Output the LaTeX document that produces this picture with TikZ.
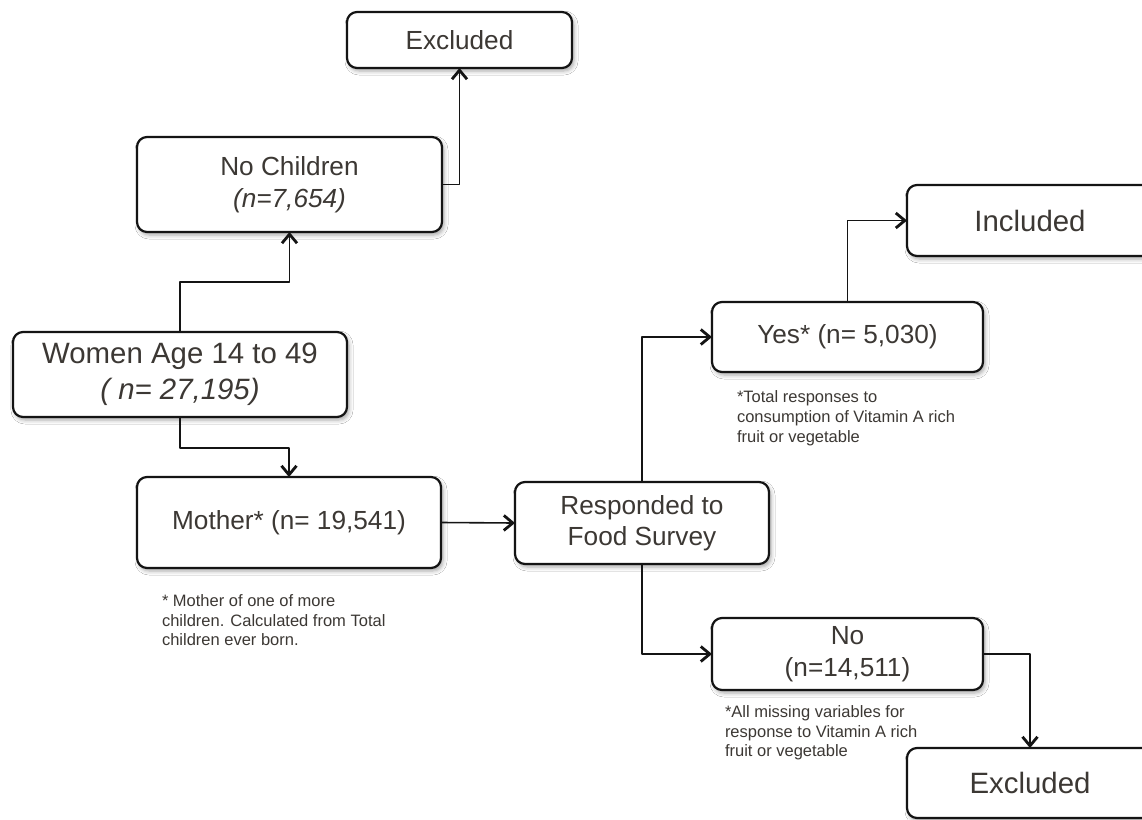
\documentclass[tikz,border=0pt]{standalone}
\usepackage{fontspec}
\setmainfont{Liberation Sans}
\usetikzlibrary{arrows.meta,shadows.blur}
\definecolor{FlowInk}{gray}{0.08}
\definecolor{FlowText}{RGB}{60,56,52}
\tikzset{
    flow/diagram/.style={
        x=0.5pt, y=-0.5pt,
        line join=round,
        every node/.style={inner sep=0pt, outer sep=0pt}
    },
    flow/box/.style={
        draw=FlowInk, fill=white, text=FlowText, line width=1.1pt,
        rounded corners=5pt, align=center,
        blur shadow={shadow xshift=1pt, shadow yshift=-1.5pt,
            shadow blur radius=2pt, shadow opacity=35}
    },
    flow/link/.style={
        draw=FlowInk, line width=0.8pt,
        -{Straight Barb[length=4.5pt, width=7.5pt, line width=1.4pt]}
    },
    flow/note/.style={
        anchor=north west, align=left, text=FlowText,
        font=\fontsize{8.25}{9.6}\selectfont
    },
    flow/big/.style={font=\fontsize{14.7}{18}\selectfont},
    flow/mid/.style={font=\fontsize{13.1}{16}\selectfont}
}

\begin{document}
\begin{tikzpicture}[flow/diagram]
    \fill[white] (0,0) rectangle (1142,820);
    \clip (0,0) rectangle (1142,820);
    % left column
    \node[flow/box, flow/mid, minimum width=112.5pt, minimum height=28pt]
        (exclTop) at (459.5,40) {Excluded};
    \node[flow/box, flow/mid, minimum width=152.5pt, minimum height=47.5pt]
        (noChild) at (289.5,184.5) {No Children\\\textit{(n=7,654)}};
    \node[flow/box, flow/big, minimum width=167pt, minimum height=42.5pt]
        (women) at (180,374.5) {Women Age 14 to 49\\\textit{( n= 27,195)}};
    \node[flow/box, flow/mid, minimum width=152pt, minimum height=45.5pt]
        (mother) at (289,522.5) {Mother* (n= 19,541)};
    % survey branch
    \node[flow/box, flow/mid, font=\fontsize{13.1}{15.5}\selectfont,
        minimum width=127pt, minimum height=41pt]
        (survey) at (642,523) {Responded to\\Food Survey};
    \node[flow/box, flow/mid, minimum width=135.5pt, minimum height=35pt]
        (yes) at (847.5,337) {Yes* (n= 5,030)};
    \node[flow/box, flow/mid, minimum width=135.5pt, minimum height=36pt]
        (no) at (847.5,654) {No\\(n=14,511)};
    \node[flow/box, flow/big, minimum width=123pt, minimum height=35.5pt]
        (incl) at (1030,220.5) {Included};
    \node[flow/box, flow/big, minimum width=123pt, minimum height=35pt]
        (exclBot) at (1030,783) {Excluded};
    % notes
    \node[flow/note] (motherNote) at (162,595)
        {* Mother of one of more\\children. Calculated from Total\\children ever born.};
    \node[flow/note, font=\fontsize{8.25}{10}\selectfont] (yesNote) at (737,391)
        {*Total responses to\\consumption of Vitamin A rich\\fruit or vegetable};
    \node[flow/note] (noNote) at (725,706)
        {*All missing variables for\\response to Vitamin A rich\\fruit or vegetable};
    % connectors
    \draw[flow/link] (noChild.east) -| (exclTop.south);
    \draw[flow/link] (women.north) -- ++(0,-50) -| (noChild.south);
    \draw[flow/link] (women.south) -- ++(0,31) -| (mother.north);
    \draw[flow/link] (mother.east) -- (survey.west);
    \draw[flow/link] (survey.north) |- (yes.west);
    \draw[flow/link] (survey.south) |- (no.west);
    \draw[flow/link] (yes.north) |- (incl.west);
    \draw[flow/link] (no.east) -| (exclBot.north);
\end{tikzpicture}
\end{document}
